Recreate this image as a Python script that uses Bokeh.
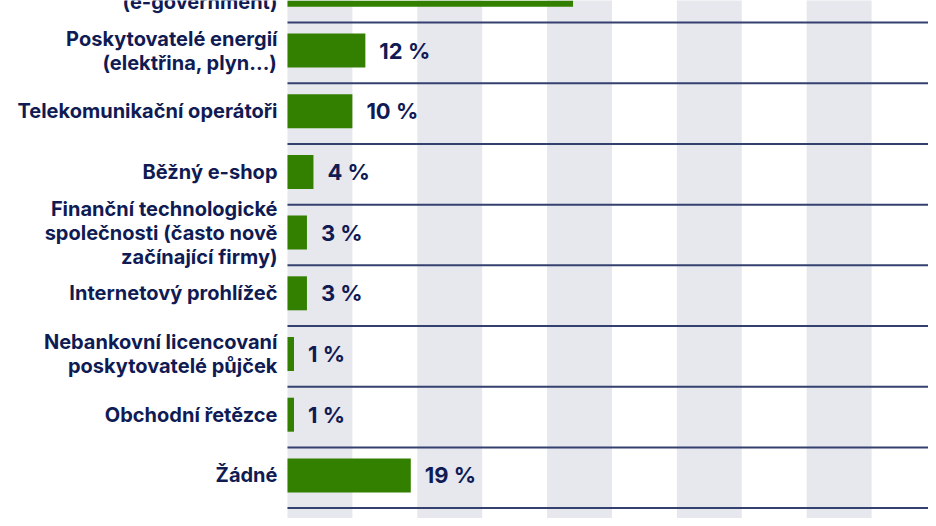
from bokeh.plotting import figure
from bokeh.models import Range1d, ColumnDataSource
from bokeh.core.properties import value
from bokeh.embed import file_html
from bokeh.resources import INLINE

categories = [
    "Stát a veřejná správa\n(e-government)",
    "Poskytovatelé energií\n(elektřina, plyn...)",
    "Telekomunikační operátoři",
    "Běžný e-shop",
    "Finanční technologické\nspolečnosti (často nově\nzačínající firmy)",
    "Internetový prohlížeč",
    "Nebankovní licencovaní\nposkytovatelé půjček",
    "Obchodní řetězce",
    "Žádné",
    "Jiné",
]
values = [44, 12, 10, 4, 3, 3, 1, 1, 19, 9]
value_labels = [f"{v} %" for v in values]

NAVY = "#101b54"
GREEN = "#338000"
STRIPE = "#e7e7ee"
LINE = "#34416f"

idx = list(range(len(categories)))
src = ColumnDataSource(dict(y=idx, cat=categories, val=values, lab=value_labels,
                            zero=[0] * len(idx)))

p = figure(width=928, height=518, output_backend="svg", toolbar_location=None,
           x_range=Range1d(-44.22, 98.77), y_range=Range1d(8.71, 0.176),
           min_border=0, min_border_left=0, min_border_right=0,
           min_border_top=0, min_border_bottom=0)
p.axis.visible = False
p.grid.visible = False
p.outline_line_color = None
p.background_fill_color = "white"
p.border_fill_color = "white"

# alternating background stripes every 10 %
stripe_left = list(range(0, 100, 20))
p.quad(left=stripe_left, right=[s + 10 for s in stripe_left],
       bottom=[20] * len(stripe_left), top=[-5] * len(stripe_left),
       fill_color=STRIPE, line_color=None)

# separator lines between rows
sep_y = [i + 0.539 for i in range(-1, len(categories))]
p.segment(x0=[0] * len(sep_y), x1=[100] * len(sep_y), y0=sep_y, y1=sep_y,
          line_color=LINE, line_width=2)

p.hbar(y="y", left="zero", right="val", height=0.56, source=src,
       fill_color=GREEN, line_color=None)

p.text(x="zero", y="y", text="cat", source=src, x_offset=-10,
       text_align="right", text_baseline="middle",
       text_font=value("Inter"), text_font_size="20px", text_font_style="bold",
       text_color=NAVY, text_line_height=1.0)

p.text(x="val", y="y", text="lab", source=src, x_offset=14,
       text_align="left", text_baseline="middle",
       text_font=value("Inter"), text_font_size="22px", text_font_style="bold",
       text_color=NAVY)

open("out.html", "w").write(file_html(p, INLINE))
